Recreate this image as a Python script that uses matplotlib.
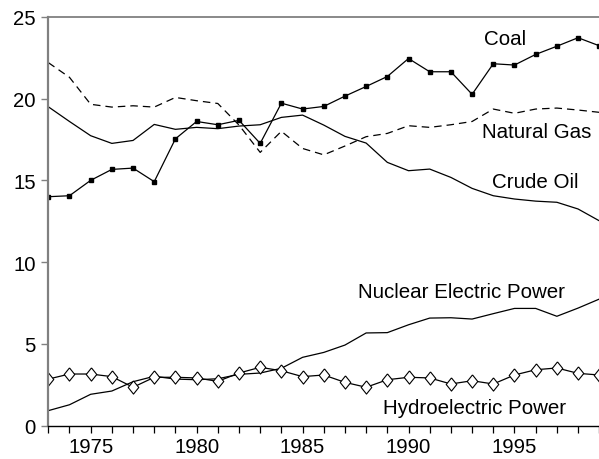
import matplotlib
matplotlib.use("Agg")
import matplotlib.pyplot as plt
from matplotlib.ticker import MultipleLocator, FixedLocator

plt.rcParams['font.family'] = ['Liberation Sans', 'DejaVu Sans']

years = list(range(1973, 2000))
coal = [14.0, 14.06, 15.0, 15.67, 15.75, 14.92, 17.54, 18.6, 18.4, 18.67, 17.26, 19.72,
        19.36, 19.52, 20.15, 20.74, 21.35, 22.45, 21.64, 21.64, 20.26, 22.13, 22.05,
        22.7, 23.2, 23.72, 23.23]
natural_gas = [22.2, 21.3, 19.65, 19.48, 19.56, 19.48, 20.07, 19.87, 19.7, 18.38, 16.71, 18.0,
               16.95, 16.56, 17.1, 17.67, 17.87, 18.34, 18.24, 18.4, 18.6, 19.36, 19.1,
               19.36, 19.42, 19.3, 19.16]
crude_oil = [19.5, 18.6, 17.73, 17.26, 17.44, 18.42, 18.12, 18.24, 18.16, 18.32, 18.4, 18.85,
             18.99, 18.38, 17.69, 17.28, 16.1, 15.59, 15.69, 15.18, 14.51, 14.06, 13.86,
             13.73, 13.66, 13.25, 12.53]
nuclear = [0.92, 1.28, 1.92, 2.12, 2.69, 3.02, 2.85, 2.81, 2.87, 3.14, 3.22, 3.51,
           4.18, 4.48, 4.93, 5.67, 5.69, 6.17, 6.58, 6.6, 6.52, 6.85, 7.17,
           7.17, 6.69, 7.19, 7.74]
hydro = [2.85, 3.16, 3.16, 3.0, 2.35, 2.96, 2.96, 2.92, 2.71, 3.22, 3.57, 3.36,
         3.0, 3.1, 2.65, 2.35, 2.81, 2.96, 2.92, 2.55, 2.75, 2.55, 3.1,
         3.42, 3.53, 3.2, 3.1]

labels = ["Coal", "Natural Gas", "Crude Oil", "Nuclear Electric Power", "Hydroelectric Power"]
label_pos = [(1994.54, 23.7), (1996.05, 18.0), (1996.0, 14.96), (1992.5, 8.23), (1993.1, 1.14)]

x_ticks = [1975, 1980, 1985, 1990, 1995]
y_ticks = [0, 5, 10, 15, 20, 25]

fig = plt.figure(figsize=(5.99, 4.60), dpi=100)
ax = fig.add_axes([0.0806, 0.0724, 0.9205, 0.8889])

lw = 0.9
ax.plot(years, coal, color='black', lw=lw, marker='s', markersize=3.2)
ax.plot(years, natural_gas, color='black', lw=lw, linestyle=(0, (6, 4)))
ax.plot(years, crude_oil, color='black', lw=lw)
ax.plot(years, nuclear, color='black', lw=lw)
diamond = [(0, 1), (0.8, 0), (0, -1), (-0.8, 0), (0, 1)]
ax.plot(years, hydro, color='black', lw=lw, marker=diamond, markersize=9.5,
        markerfacecolor='white', markeredgecolor='black', markeredgewidth=0.8)

for lab, (lx, ly) in zip(labels, label_pos):
    ax.text(lx, ly, lab, fontsize=14.8, ha='center', va='center', color='black')

ax.set_xlim(1973, 1999.02)
ax.set_ylim(0, 25)
ax.xaxis.set_major_locator(FixedLocator(x_ticks))
ax.xaxis.set_minor_locator(MultipleLocator(1))
ax.yaxis.set_major_locator(FixedLocator(y_ticks))

ax.spines['right'].set_visible(False)
ax.spines['left'].set_color('#808080')
ax.spines['left'].set_linewidth(1.6)
ax.spines['top'].set_color('#808080')
ax.spines['top'].set_linewidth(1.3)
ax.spines['bottom'].set_color('black')
ax.spines['bottom'].set_linewidth(1.0)

ax.tick_params(axis='x', which='both', direction='out', length=5, width=0.9,
               color='black', labelsize=14.6, pad=3)
ax.tick_params(axis='y', which='major', direction='out', length=5, width=1.0,
               color='#808080', labelsize=14.6, pad=4)

fig.savefig('out.png', dpi=100)
